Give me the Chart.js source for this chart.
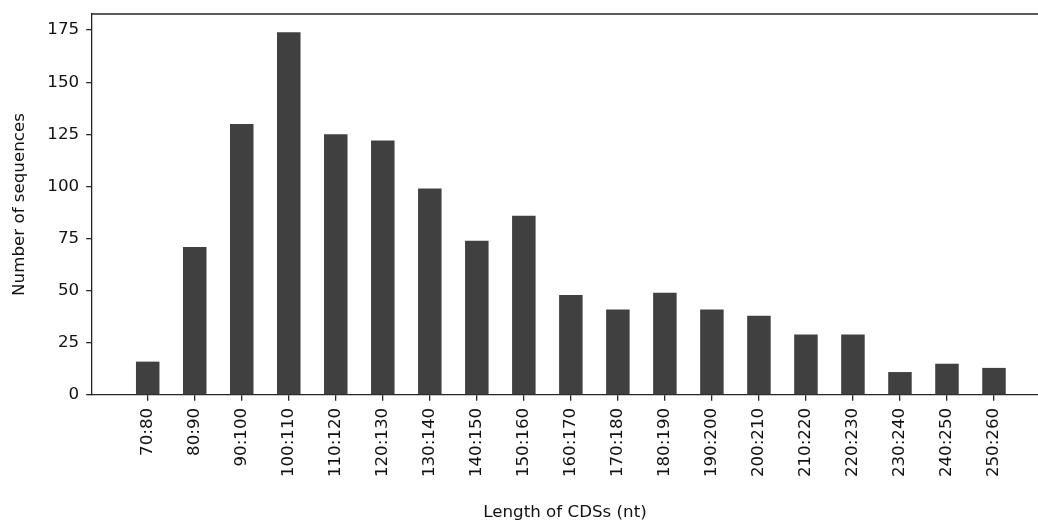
<!DOCTYPE html>
<html>
<head>
<meta charset="utf-8">
<script src="https://cdn.jsdelivr.net/npm/chart.js@4/dist/chart.umd.min.js"></script>
<style>
  html, body { margin: 0; padding: 0; background: #fff; }
  #wrap { width: 1038px; height: 521px; position: relative; }
</style>
</head>
<body>
<div id="wrap"><canvas id="cds-length-chart"></canvas></div>
<script>
// CDS length bins and counts
const binLabels = ['70:80', '80:90', '90:100', '100:110', '110:120', '120:130', '130:140',
  '140:150', '150:160', '160:170', '170:180', '180:190', '190:200', '200:210',
  '210:220', '220:230', '230:240', '240:250', '250:260'];
const sequenceCounts = [16, 71, 130, 174, 125, 122, 99, 74, 86, 48, 41, 49, 41, 38, 29, 29, 11, 15, 13];
const yTickValues = [0, 25, 50, 75, 100, 125, 150, 175];

const axisColor = '#262626';
const textColor = '#111111';
const barColor = '#404040';
const font = { family: '"DejaVu Sans", sans-serif', size: 16.7 };
const titleFont = { family: '"DejaVu Sans", sans-serif', size: 16.7, lineHeight: 1.0 };

// top spine only (the right one is cropped off in the original)
const topSpine = {
  id: 'topSpine',
  afterDraw(chart) {
    const { ctx, chartArea } = chart;
    ctx.save();
    ctx.strokeStyle = axisColor;
    ctx.lineWidth = 1.3;
    ctx.beginPath();
    ctx.moveTo(chartArea.left, chartArea.top);
    ctx.lineTo(chartArea.right, chartArea.top);
    ctx.stroke();
    ctx.restore();
  }
};

// keep the plot box where it is in the original, no auto label padding
const noPad = (scale) => {
  scale.paddingTop = 0;
  scale.paddingBottom = 0;
  scale.paddingLeft = 0;
  scale.paddingRight = 0;
};

const points = binLabels.map((label, i) => ({ x: i, y: sequenceCounts[i] }));

new Chart(document.getElementById('cds-length-chart'), {
  type: 'bar',
  data: {
    datasets: [{
      label: 'Number of sequences',
      data: points,
      backgroundColor: barColor,
      borderWidth: 0,
      categoryPercentage: 1.0,
      barPercentage: 0.5
    }]
  },
  options: {
    responsive: true,
    maintainAspectRatio: false,
    animation: false,
    devicePixelRatio: 1,
    layout: { padding: { top: 14, right: 0, left: 0, bottom: 0 } },
    plugins: {
      legend: { display: false },
      tooltip: { enabled: false }
    },
    scales: {
      x: {
        type: 'linear',
        offset: false,
        min: -1.185,
        max: 18.936,
        grid: { offset: false, drawOnChartArea: false, drawTicks: true, tickLength: 5.8, lineWidth: 1.3, color: axisColor },
        border: { display: true, color: axisColor, width: 1.3 },
        afterBuildTicks: (scale) => { scale.ticks = binLabels.map((l, i) => ({ value: i })); },
        afterFit: (scale) => { scale.height = 126; noPad(scale); },
        ticks: {
          autoSkip: false,
          minRotation: 90,
          maxRotation: 90,
          padding: 7,
          color: textColor,
          font: font,
          callback: (value) => binLabels[value]
        },
        title: {
          display: true,
          text: 'Length of CDSs (nt)',
          color: textColor,
          font: titleFont,
          padding: { top: 0, bottom: 0 }
        }
      },
      y: {
        type: 'linear',
        min: 0,
        max: 182.7,
        grid: { drawOnChartArea: false, drawTicks: true, tickLength: 5.8, lineWidth: 1.3, color: axisColor },
        border: { display: true, color: axisColor, width: 1.3 },
        afterBuildTicks: (scale) => { scale.ticks = yTickValues.map(v => ({ value: v })); },
        afterFit: (scale) => { scale.width = 92; noPad(scale); },
        ticks: {
          padding: 7,
          color: textColor,
          font: font
        },
        title: {
          display: true,
          text: 'Number of sequences',
          color: textColor,
          font: titleFont,
          padding: { top: 11.5, bottom: 0 }
        }
      }
    }
  },
  plugins: [topSpine]
});
</script>
</body>
</html>
